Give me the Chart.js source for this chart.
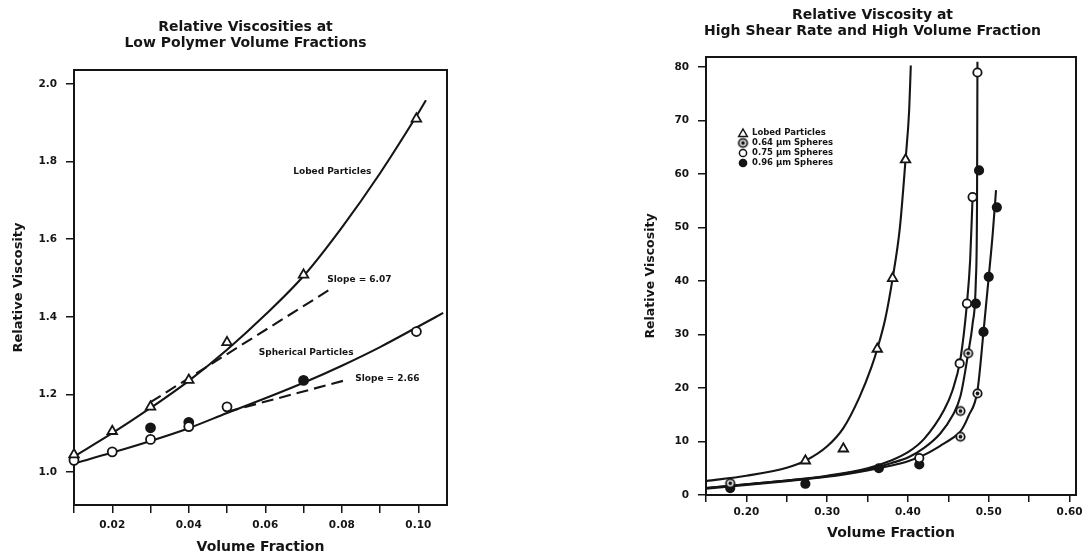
<!DOCTYPE html>
<html><head><meta charset="utf-8">
<script src="https://cdn.jsdelivr.net/npm/chart.js@4/dist/chart.umd.min.js"></script>
<style>
html,body{margin:0;padding:0;background:#fff;overflow:hidden;width:1083px;height:556px;position:relative;}
#c1{position:absolute;left:0;top:0;}
#c2{position:absolute;left:600px;top:0;}
</style></head><body>
<canvas id="c1" width="491" height="556"></canvas>
<canvas id="c2" width="545" height="556"></canvas>
<script>
// ---------- Left chart: low volume fractions ----------
const lowTitle = ['Relative Viscosities at', 'Low Polymer Volume Fractions'];
const lowXTicks = [0.01, 0.02, 0.03, 0.04, 0.05, 0.06, 0.07, 0.08, 0.09, 0.10];
const lowXTickLabels = ['', '0.02', '', '0.04', '', '0.06', '', '0.08', '', '0.10'];
const lowYTicks = [1.0, 1.2, 1.4, 1.6, 1.8, 2.0];
const lowYTickLabels = ['1.0', '1.2', '1.4', '1.6', '1.8', '2.0'];

const lobedLowX = [0.01, 0.02, 0.03, 0.04, 0.05, 0.07, 0.0995];
const lobedLowY = [1.045, 1.105, 1.168, 1.237, 1.334, 1.508, 1.910];
const sphOpenLowX = [0.01, 0.02, 0.03, 0.04, 0.05, 0.0995];
const sphOpenLowY = [1.030, 1.052, 1.084, 1.117, 1.168, 1.362];
const sphFilledLowX = [0.03, 0.04, 0.07];
const sphFilledLowY = [1.114, 1.128, 1.236];

const lobedFitLowX = [0.01, 0.02, 0.03, 0.04, 0.05, 0.06, 0.07, 0.08, 0.09, 0.10, 0.102];
const lobedFitLowY = [1.040, 1.100, 1.165, 1.235, 1.315, 1.405, 1.505, 1.630, 1.770, 1.925, 1.958];
const sphFitLowX = [0.01, 0.02, 0.03, 0.04, 0.05, 0.06, 0.07, 0.08, 0.09, 0.10, 0.1065];
const sphFitLowY = [1.022, 1.050, 1.080, 1.113, 1.152, 1.190, 1.230, 1.274, 1.322, 1.375, 1.410];
const lobedSlopeX = [0.03, 0.0765];
const lobedSlopeY = [1.180, 1.468];
const sphSlopeX = [0.05, 0.0815];
const sphSlopeY = [1.155, 1.238];

const lowNoteText = ['Lobed Particles', 'Slope = 6.07', 'Spherical Particles', 'Slope = 2.66'];
const lowNoteX = [0.0673, 0.0762, 0.0583, 0.0835];
const lowNoteY = [1.774, 1.495, 1.307, 1.240];

// ---------- Right chart: high shear rate, high volume fraction ----------
const hiTitle = ['Relative Viscosity at', 'High Shear Rate and High Volume Fraction'];
const hiXTicks = [0.15, 0.20, 0.25, 0.30, 0.35, 0.40, 0.45, 0.50, 0.55, 0.60];
const hiXTickLabels = ['', '0.20', '', '0.30', '', '0.40', '', '0.50', '', '0.60'];
const hiYTicks = [0, 10, 20, 30, 40, 50, 60, 70, 80];
const hiYTickLabels = ['0', '10', '20', '30', '40', '50', '60', '70', '80'];

const hiLegendLabels = ['Lobed Particles', '0.64 \u00b5m Spheres', '0.75 \u00b5m Spheres', '0.96 \u00b5m Spheres'];

const lobedHiX = [0.273, 0.320, 0.362, 0.381, 0.397];
const lobedHiY = [6.4, 8.65, 27.3, 40.5, 62.7];
const s64X = [0.180, 0.465, 0.465, 0.4745, 0.486];
const s64Y = [2.2, 10.9, 15.7, 26.5, 19.0];
const s75X = [0.414, 0.464, 0.473, 0.480, 0.486];
const s75Y = [6.9, 24.6, 35.8, 55.7, 79.0];
const s96X = [0.180, 0.273, 0.364, 0.414, 0.484, 0.488, 0.4935, 0.500, 0.510];
const s96Y = [1.3, 2.1, 5.0, 5.7, 35.8, 60.7, 30.5, 40.8, 53.8];

const lobedFitHiX = [0.15, 0.20, 0.25, 0.273, 0.30, 0.32, 0.34, 0.355, 0.362, 0.372, 0.381, 0.39, 0.397, 0.4015, 0.4035];
const lobedFitHiY = [2.6, 3.6, 5.1, 6.4, 9.1, 12.5, 18.3, 24.0, 27.3, 33.0, 40.5, 50.0, 62.7, 72.0, 80.3];
const fitAX = [0.15, 0.20, 0.25, 0.30, 0.35, 0.38, 0.40, 0.42, 0.445, 0.455, 0.465, 0.473, 0.477, 0.480];
const fitAY = [1.3, 2.0, 2.7, 3.6, 5.0, 6.5, 8.0, 10.5, 16.0, 19.5, 25.5, 35.8, 44.0, 55.7];
const fitBX = [0.15, 0.20, 0.25, 0.30, 0.35, 0.38, 0.40, 0.42, 0.44, 0.455, 0.465, 0.4745, 0.480, 0.484, 0.4855, 0.486];
const fitBY = [1.3, 2.0, 2.7, 3.5, 4.8, 6.0, 7.0, 8.8, 11.5, 14.8, 18.5, 26.5, 32.0, 40.0, 55.0, 81.0];
const fitCX = [0.15, 0.20, 0.25, 0.30, 0.35, 0.38, 0.40, 0.42, 0.44, 0.46, 0.466, 0.475, 0.486, 0.4935, 0.500, 0.505, 0.509];
const fitCY = [1.2, 1.9, 2.6, 3.4, 4.6, 5.5, 6.3, 7.5, 9.2, 11.2, 12.1, 14.8, 19.5, 30.5, 40.8, 49.0, 57.0];

// ---------- helpers ----------
const ink = '#151515';
Chart.defaults.font.family = "'DejaVu Sans', sans-serif";
Chart.defaults.color = ink;
const pts = (xs, ys) => xs.map((x, i) => ({x: x, y: ys[i]}));

function makeDotCircle(r) {
  const c = document.createElement('canvas');
  const s = Math.ceil(2 * r + 4);
  c.width = s; c.height = s;
  const g = c.getContext('2d');
  g.beginPath(); g.arc(s / 2, s / 2, r, 0, Math.PI * 2);
  g.fillStyle = '#fff'; g.fill();
  g.lineWidth = 1.8; g.strokeStyle = ink; g.stroke();
  g.beginPath(); g.arc(s / 2, s / 2, r * 0.45, 0, Math.PI * 2);
  g.fillStyle = ink; g.fill();
  return c;
}
const dotCircle = makeDotCircle(4.2);

const tickFont = {size: 10.5, weight: 'bold'};
const titleFont = {size: 14, weight: 'bold', lineHeight: 1.2};

function markerDs(label, data, style, fill, r, order) {
  return {label, data, pointStyle: style, pointRadius: r, pointHoverRadius: r,
    backgroundColor: fill, borderColor: ink, borderWidth: 1.8, showLine: false, order, clip: false};
}
function curveDs(label, data, dash, order) {
  return {label, data, showLine: true, pointRadius: 0, pointHoverRadius: 0,
    borderColor: ink, borderWidth: 2.1, borderDash: dash || [],
    cubicInterpolationMode: dash ? 'default' : 'monotone', tension: 0, order, fill: false};
}
function frameAxes(rightWidth) {
  return {
    x2: {type: 'linear', position: 'top', min: 0, max: 1, display: true,
      ticks: {display: false}, grid: {display: false}, border: {display: true, color: ink, width: 2},
      afterFit: s => { s.height = 0; }},
    y2: {type: 'linear', position: 'right', min: 0, max: 1, display: true,
      ticks: {display: false}, grid: {display: false}, border: {display: true, color: ink, width: 2},
      afterFit: s => { s.width = rightWidth; }}
  };
}

// ---------- left chart ----------
const lowNotes = {
  id: 'lowNotes',
  afterDatasetsDraw(chart) {
    const {ctx, scales: {x, y}} = chart;
    ctx.save();
    ctx.fillStyle = ink;
    ctx.font = "bold 9px 'DejaVu Sans'";
    ctx.textAlign = 'left'; ctx.textBaseline = 'middle';
    lowNoteText.forEach((t, i) => ctx.fillText(t, x.getPixelForValue(lowNoteX[i]), y.getPixelForValue(lowNoteY[i])));
    ctx.restore();
  }
};

new Chart(document.getElementById('c1'), {
  type: 'scatter',
  data: {datasets: [
    markerDs('Lobed Particles', pts(lobedLowX, lobedLowY), 'triangle', '#fff', 5.5, 1),
    markerDs('Spherical Particles (open)', pts(sphOpenLowX, sphOpenLowY), 'circle', '#fff', 4.5, 2),
    markerDs('Spherical Particles (filled)', pts(sphFilledLowX, sphFilledLowY), 'circle', ink, 4.5, 3),
    curveDs('Lobed fit', pts(lobedFitLowX, lobedFitLowY), null, 10),
    curveDs('Spherical fit', pts(sphFitLowX, sphFitLowY), null, 11),
    curveDs('Slope 6.07', pts(lobedSlopeX, lobedSlopeY), [12, 6], 12),
    curveDs('Slope 2.66', pts(sphSlopeX, sphSlopeY), [12, 6], 13)
  ]},
  options: {
    responsive: false, animation: false, events: [],
    layout: {padding: 0},
    plugins: {
      legend: {display: false}, tooltip: {enabled: false},
      title: {display: true, text: lowTitle, color: ink, font: titleFont, padding: {top: 18.6, bottom: 17.8}}
    },
    scales: Object.assign({
      x: {type: 'linear', position: 'bottom', min: 0.01, max: 0.1075,
        afterBuildTicks: s => { s.ticks = lowXTicks.map(v => ({value: v})); },
        ticks: {callback: (v, i) => lowXTickLabels[i], font: tickFont, color: ink, padding: 6, maxRotation: 0, autoSkip: false},
        grid: {drawOnChartArea: false, tickLength: 8, color: ink, lineWidth: 1.5},
        border: {color: ink, width: 2},
        title: {display: true, text: 'Volume Fraction', color: ink, font: {size: 14, weight: 'bold'}, padding: {top: 0, bottom: 0}},
        afterFit: s => { s.height = 51; }},
      y: {type: 'linear', position: 'left', min: 0.915, max: 2.036,
        afterBuildTicks: s => { s.ticks = lowYTicks.map(v => ({value: v})); },
        ticks: {callback: (v, i) => lowYTickLabels[i], font: tickFont, color: ink, padding: 9, autoSkip: false},
        grid: {drawOnChartArea: false, tickLength: 8, color: ink, lineWidth: 1.5},
        border: {color: ink, width: 2},
        title: {display: true, text: 'Relative Viscosity', color: ink, font: {size: 13, weight: 'bold'}, padding: {top: 11.2, bottom: 0}},
        afterFit: s => { s.width = 74; }}
    }, frameAxes(491 - 447))
  },
  plugins: [lowNotes]
});

// ---------- right chart ----------
const hiLegend = {
  id: 'hiLegend',
  afterDatasetsDraw(chart) {
    const {ctx, chartArea: a} = chart;
    ctx.save();
    ctx.font = "bold 8.5px 'DejaVu Sans'";
    ctx.textAlign = 'left'; ctx.textBaseline = 'middle';
    hiLegendLabels.forEach((t, i) => {
      const mx = a.left + 37, my = a.top + 76 + i * 10;
      ctx.lineWidth = 1.5; ctx.strokeStyle = ink; ctx.fillStyle = '#fff';
      if (i === 0) {
        ctx.beginPath(); ctx.moveTo(mx, my - 4); ctx.lineTo(mx + 4.3, my + 3.5); ctx.lineTo(mx - 4.3, my + 3.5); ctx.closePath();
        ctx.fill(); ctx.stroke();
      } else if (i === 1) {
        ctx.drawImage(dotCircle, mx - dotCircle.width / 2, my - dotCircle.height / 2);
      } else {
        ctx.beginPath(); ctx.arc(mx, my, 3.6, 0, Math.PI * 2);
        ctx.fillStyle = i === 3 ? ink : '#fff'; ctx.fill(); ctx.stroke();
      }
      ctx.fillStyle = ink;
      ctx.fillText(t, mx + 9, my);
    });
    ctx.restore();
  }
};

new Chart(document.getElementById('c2'), {
  type: 'scatter',
  data: {datasets: [
    markerDs(hiLegendLabels[0], pts(lobedHiX, lobedHiY), 'triangle', '#fff', 5.5, 1),
    markerDs(hiLegendLabels[1], pts(s64X, s64Y), dotCircle, '#fff', 4.2, 2),
    markerDs(hiLegendLabels[2], pts(s75X, s75Y), 'circle', '#fff', 4.2, 3),
    markerDs(hiLegendLabels[3], pts(s96X, s96Y), 'circle', ink, 4.2, 4),
    curveDs('Lobed fit', pts(lobedFitHiX, lobedFitHiY), null, 10),
    curveDs('Sphere fit A', pts(fitAX, fitAY), null, 11),
    curveDs('Sphere fit B', pts(fitBX, fitBY), null, 12),
    curveDs('Sphere fit C', pts(fitCX, fitCY), null, 13)
  ]},
  options: {
    responsive: false, animation: false, events: [],
    layout: {padding: 0},
    plugins: {
      legend: {display: false}, tooltip: {enabled: false},
      title: {display: true, text: hiTitle, color: ink, font: titleFont, padding: {top: 6.6, bottom: 16.8}}
    },
    scales: Object.assign({
      x: {type: 'linear', position: 'bottom', min: 0.15, max: 0.608,
        afterBuildTicks: s => { s.ticks = hiXTicks.map(v => ({value: v})); },
        ticks: {callback: (v, i) => hiXTickLabels[i], font: tickFont, color: ink, padding: 4, maxRotation: 0, autoSkip: false},
        grid: {drawOnChartArea: false, tickLength: 7, color: ink, lineWidth: 1.5},
        border: {color: ink, width: 2},
        title: {display: true, text: 'Volume Fraction', color: ink, font: {size: 14, weight: 'bold'}, padding: {top: 0, bottom: 14.6}},
        afterFit: s => { s.height = 61; }},
      y: {type: 'linear', position: 'left', min: 0, max: 81.9,
        afterBuildTicks: s => { s.ticks = hiYTicks.map(v => ({value: v})); },
        ticks: {callback: (v, i) => hiYTickLabels[i], font: tickFont, color: ink, padding: 9, autoSkip: false},
        grid: {drawOnChartArea: false, tickLength: 8, color: ink, lineWidth: 1.5},
        border: {color: ink, width: 2},
        title: {display: true, text: 'Relative Viscosity', color: ink, font: {size: 12.5, weight: 'bold'}, padding: {top: 43.5, bottom: 0}},
        afterFit: s => { s.width = 106; }}
    }, frameAxes(545 - 476))
  },
  plugins: [hiLegend]
});
</script>
</body></html>
